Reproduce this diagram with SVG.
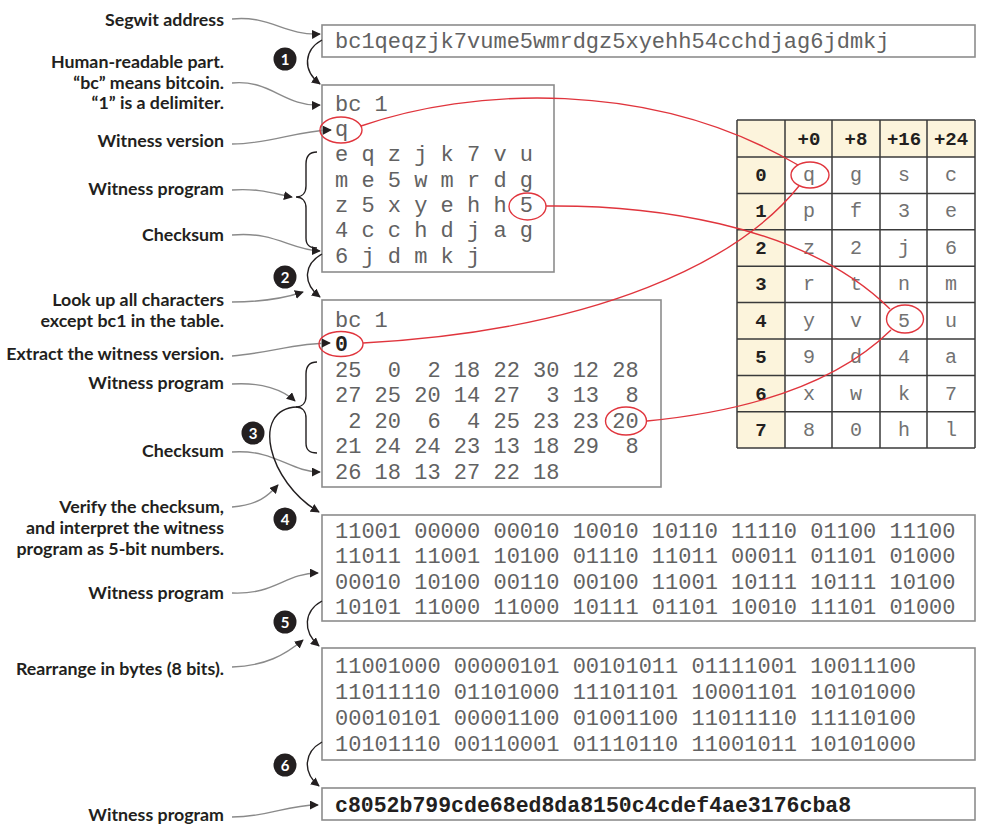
<svg xmlns="http://www.w3.org/2000/svg" width="982" height="827" viewBox="0 0 982 827">
<defs>
<marker id="ah" viewBox="0 0 10 10" refX="9" refY="5" markerWidth="9" markerHeight="9" markerUnits="userSpaceOnUse" orient="auto">
<path d="M0,0 L10,5 L0,10 z" fill="#231f20"/>
</marker>
<style>
.lbl{font-family:Lato,"Open Sans","Liberation Sans",sans-serif;font-weight:700;font-size:17.8px;fill:#231f20;text-anchor:end}
.box{fill:#fff;stroke:#8c8c8c;stroke-width:1.6}
.mono{font-family:"Liberation Mono","Courier New",monospace;font-size:22px;fill:#626262}
.monob{font-family:"Liberation Mono","Courier New",monospace;font-size:21.5px;font-weight:700;fill:#231f20}
.ann{fill:none;stroke:#8a8a8a;stroke-width:1.4;marker-end:url(#ah)}
.step{fill:none;stroke:#231f20;stroke-width:1.4;marker-end:url(#ah)}
.brace{fill:none;stroke:#231f20;stroke-width:1.4}
.red{fill:none;stroke:#e0353d;stroke-width:1.4}
.num circle{fill:#231f20}
.num text{font-family:Lato,"Open Sans","Liberation Sans",sans-serif;font-weight:700;font-size:15px;fill:#fff;text-anchor:middle}
.cell{font-family:"Liberation Mono","Courier New",monospace;font-size:20px;fill:#727272;text-anchor:middle}
.hdr{font-family:"Liberation Mono","Courier New",monospace;font-size:19px;font-weight:700;fill:#231f20;text-anchor:middle}
.grid{stroke:#3a3a3a;stroke-width:1.5}
</style>
</defs>
<rect width="982" height="827" fill="#fff"/>

<!-- labels -->
<g id="labels">
<text class="lbl" x="224" y="26">Segwit address</text>
<text class="lbl" x="224" y="68">Human-readable part.</text>
<text class="lbl" x="224" y="89">“bc” means bitcoin.</text>
<text class="lbl" x="224" y="109">“1” is a delimiter.</text>
<text class="lbl" x="224" y="147">Witness version</text>
<text class="lbl" x="224" y="195">Witness program</text>
<text class="lbl" x="224" y="241">Checksum</text>
<text class="lbl" x="224" y="306">Look up all characters</text>
<text class="lbl" x="224" y="327">except bc1 in the table.</text>
<text class="lbl" x="224" y="360">Extract the witness version.</text>
<text class="lbl" x="224" y="389">Witness program</text>
<text class="lbl" x="224" y="457">Checksum</text>
<text class="lbl" x="224" y="513">Verify the checksum,</text>
<text class="lbl" x="224" y="534">and interpret the witness</text>
<text class="lbl" x="224" y="555">program as 5-bit numbers.</text>
<text class="lbl" x="224" y="599">Witness program</text>
<text class="lbl" x="224" y="675">Rearrange in bytes (8 bits).</text>
<text class="lbl" x="224" y="821">Witness program</text>
</g>

<!-- boxes -->
<g id="box1">
<rect class="box" x="322" y="25" width="653" height="32"/>
<text class="mono" x="335" y="48">bc1qeqzjk7vume5wmrdgz5xyehh54cchdjag6jdmkj</text>
</g>
<g id="box2">
<rect class="box" x="322" y="85" width="232" height="187"/>
<text class="mono" x="335" y="111" xml:space="preserve">bc 1</text>
<text class="mono" x="335" y="136">q</text>
<text class="mono" x="335" y="161" xml:space="preserve">e q z j k 7 v u</text>
<text class="mono" x="335" y="187" xml:space="preserve">m e 5 w m r d g</text>
<text class="mono" x="335" y="212" xml:space="preserve">z 5 x y e h h 5</text>
<text class="mono" x="335" y="237" xml:space="preserve">4 c c h d j a g</text>
<text class="mono" x="335" y="263" xml:space="preserve">6 j d m k j</text>
</g>
<g id="box3">
<rect class="box" x="322" y="300" width="339" height="187"/>
<text class="mono" x="335" y="327" xml:space="preserve">bc 1</text>
<text class="monob" x="335" y="351">0</text>
<text class="mono" x="335" y="377" xml:space="preserve">25  0  2 18 22 30 12 28</text>
<text class="mono" x="335" y="402" xml:space="preserve">27 25 20 14 27  3 13  8</text>
<text class="mono" x="335" y="428" xml:space="preserve"> 2 20  6  4 25 23 23 20</text>
<text class="mono" x="335" y="453" xml:space="preserve">21 24 24 23 13 18 29  8</text>
<text class="mono" x="335" y="479" xml:space="preserve">26 18 13 27 22 18</text>
</g>
<g id="box4">
<rect class="box" x="322" y="515" width="653" height="106"/>
<text class="mono" x="335" y="538">11001 00000 00010 10010 10110 11110 01100 11100</text>
<text class="mono" x="335" y="563">11011 11001 10100 01110 11011 00011 01101 01000</text>
<text class="mono" x="335" y="589">00010 10100 00110 00100 11001 10111 10111 10100</text>
<text class="mono" x="335" y="614">10101 11000 11000 10111 01101 10010 11101 01000</text>
</g>
<g id="box5">
<rect class="box" x="322" y="648" width="653" height="112"/>
<text class="mono" x="335" y="673">11001000 00000101 00101011 01111001 10011100</text>
<text class="mono" x="335" y="699">11011110 01101000 11101101 10001101 10101000</text>
<text class="mono" x="335" y="725">00010101 00001100 01001100 11011110 11110100</text>
<text class="mono" x="335" y="751">10101110 00110001 01110110 11001011 10101000</text>
</g>
<g id="box6">
<rect class="box" x="322" y="788" width="653" height="32"/>
<text class="monob" x="335" y="812">c8052b799cde68ed8da8150c4cdef4ae3176cba8</text>
</g>

<!-- table -->
<g id="table">
<rect x="737" y="120" width="238" height="328" fill="#fff"/>
<rect x="737" y="120" width="238" height="37" fill="#fcf4dc"/>
<rect x="737" y="120" width="48" height="328" fill="#fcf4dc"/>
<g class="grid">
<line x1="737" y1="120" x2="975" y2="120"/>
<line x1="737" y1="157" x2="975" y2="157"/>
<line x1="737" y1="193.4" x2="975" y2="193.4"/>
<line x1="737" y1="229.8" x2="975" y2="229.8"/>
<line x1="737" y1="266.2" x2="975" y2="266.2"/>
<line x1="737" y1="302.6" x2="975" y2="302.6"/>
<line x1="737" y1="339" x2="975" y2="339"/>
<line x1="737" y1="375.4" x2="975" y2="375.4"/>
<line x1="737" y1="411.8" x2="975" y2="411.8"/>
<line x1="737" y1="448" x2="975" y2="448"/>
<line x1="737" y1="120" x2="737" y2="448"/>
<line x1="785" y1="120" x2="785" y2="448"/>
<line x1="832" y1="120" x2="832" y2="448"/>
<line x1="880" y1="120" x2="880" y2="448"/>
<line x1="927" y1="120" x2="927" y2="448"/>
<line x1="975" y1="120" x2="975" y2="448"/>
</g>
<text class="hdr" x="809" y="145">+0</text>
<text class="hdr" x="856" y="145">+8</text>
<text class="hdr" x="904" y="145">+16</text>
<text class="hdr" x="951" y="145">+24</text>
<text class="hdr" x="761" y="181">0</text>
<text class="hdr" x="761" y="217">1</text>
<text class="hdr" x="761" y="254">2</text>
<text class="hdr" x="761" y="290">3</text>
<text class="hdr" x="761" y="327">4</text>
<text class="hdr" x="761" y="363">5</text>
<text class="hdr" x="761" y="400">6</text>
<text class="hdr" x="761" y="436">7</text>
<g class="cells">
<text class="cell" x="809" y="181">q</text><text class="cell" x="856" y="181">g</text><text class="cell" x="904" y="181">s</text><text class="cell" x="951" y="181">c</text>
<text class="cell" x="809" y="217">p</text><text class="cell" x="856" y="217">f</text><text class="cell" x="904" y="217">3</text><text class="cell" x="951" y="217">e</text>
<text class="cell" x="809" y="254">z</text><text class="cell" x="856" y="254">2</text><text class="cell" x="904" y="254">j</text><text class="cell" x="951" y="254">6</text>
<text class="cell" x="809" y="290">r</text><text class="cell" x="856" y="290">t</text><text class="cell" x="904" y="290">n</text><text class="cell" x="951" y="290">m</text>
<text class="cell" x="809" y="327">y</text><text class="cell" x="856" y="327">v</text><text class="cell" x="904" y="327">5</text><text class="cell" x="951" y="327">u</text>
<text class="cell" x="809" y="363">9</text><text class="cell" x="856" y="363">d</text><text class="cell" x="904" y="363">4</text><text class="cell" x="951" y="363">a</text>
<text class="cell" x="809" y="400">x</text><text class="cell" x="856" y="400">w</text><text class="cell" x="904" y="400">k</text><text class="cell" x="951" y="400">7</text>
<text class="cell" x="809" y="436">8</text><text class="cell" x="856" y="436">0</text><text class="cell" x="904" y="436">h</text><text class="cell" x="951" y="436">l</text>
</g>
</g>

<!-- step numbers -->
<g id="steps" class="num">
<g id="step1"><circle cx="285" cy="59" r="11.5"/><text x="285" y="64.5">1</text></g>
<g id="step2"><circle cx="285" cy="277" r="11.5"/><text x="285" y="282.5">2</text></g>
<g id="step3"><circle cx="253" cy="433" r="11.5"/><text x="253" y="438.5">3</text></g>
<g id="step4"><circle cx="285" cy="519" r="11.5"/><text x="285" y="524.5">4</text></g>
<g id="step5"><circle cx="285" cy="622" r="11.5"/><text x="285" y="627.5">5</text></g>
<g id="step6"><circle cx="285" cy="765" r="11.5"/><text x="285" y="770.5">6</text></g>
</g>

<!-- connectors -->
<g id="connectors">
<path class="ann" d="M232,19 C270,15 285,36 320,34"/>
<path class="ann" d="M232,83 C270,79 285,107 320,105"/>
<path class="ann" d="M232,144 C270,144 295,131 331,130"/>
<path class="ann" d="M232,190 C260,188 275,194 292,197"/>
<path class="ann" d="M232,235 C275,231 290,250 320,251"/>
<path class="ann" d="M232,302 C260,302 285,298 303,292"/>
<path class="ann" d="M232,356 C270,353 295,343 330,343"/>
<path class="ann" d="M232,384 C262,382 283,390 295,401"/>
<path class="ann" d="M232,452 C275,449 290,472 320,472"/>
<path class="ann" d="M232,507 C258,505 268,496 278,485"/>
<path class="ann" d="M232,593 C275,595 285,573 318,573"/>
<path class="ann" d="M232,667 C265,666 285,655 303,640"/>
<path class="ann" d="M232,817 C270,817 285,805 318,805"/>

<path class="brace" d="M317,152 C309,152 306,156 306,164 L306,186 C306,193 302,197 296,197 C302,197 306,201 306,208 L306,238 C306,245 309,248 317,248"/>
<path class="brace" d="M317,362 C309,362 306,366 306,374 L306,396 C306,403 302,407 296,407 C302,407 306,411 306,418 L306,443 C306,450 309,453 317,453"/>

<path class="step" d="M322,40 C304,50 302,70 320,84"/>
<path class="step" d="M322,254 C304,264 302,283 320,297"/>
<path class="step" d="M297,407 C250,409 268,482 319,512"/>
<path class="step" d="M322,601 C304,611 302,631 319,646"/>
<path class="step" d="M322,742 C304,752 302,772 319,786"/>

<ellipse class="red" cx="341" cy="130" rx="21" ry="13"/>
<ellipse class="red" cx="527.5" cy="206.5" rx="18.5" ry="13.5"/>
<ellipse class="red" cx="341" cy="344" rx="22" ry="12.5"/>
<ellipse class="red" cx="626" cy="421" rx="20.5" ry="14"/>
<ellipse class="red" cx="810" cy="175" rx="19" ry="13"/>
<ellipse class="red" cx="905" cy="319" rx="18.5" ry="14"/>
<path class="red" d="M361,126 C470,88 650,78 798,165"/>
<path class="red" d="M799,186 C740,260 600,330 363,343"/>
<path class="red" d="M546,206 C640,205 800,220 890,309"/>
<path class="red" d="M891,330 C840,380 760,410 647,421"/>
</g>
</svg>
